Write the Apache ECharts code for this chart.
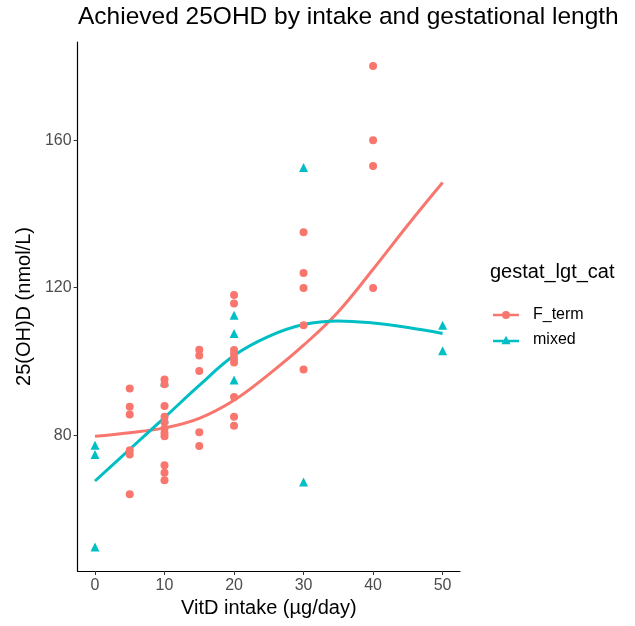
<!DOCTYPE html>
<html><head><meta charset="utf-8">
<script src="https://cdn.jsdelivr.net/npm/echarts@6/dist/echarts.min.js"></script>
<style>html,body{margin:0;padding:0;background:#fff}#c{width:635px;height:626px}</style>
</head><body><div id="c"></div>
<script>
// Observed points
const fTermIntake = [5,5,5,5,5,5, 10,10,10,10,10,10,10,10,10,10,10, 15,15,15,15,15, 20,20,20,20,20,20,20,20,20, 30,30,30,30,30, 40,40,40,40];
const fTermLevel  = [92.7,87.7,85.6,75.9,74.8,64.0, 95.1,93.8,87.9,85.0,83.6,81.8,80.6,79.7,71.9,69.8,67.8, 103.2,101.6,97.4,80.8,77.1, 118.0,115.7,103.1,102.0,100.8,99.7,90.4,85.0,82.6, 135.0,124.0,119.9,109.8,97.8, 180.1,160.0,153.0,119.9];
const mixedIntake = [0,0,0, 10,10, 20,20,20, 30,30, 50,50];
const mixedLevel  = [77.3,74.8,49.7, 94.5,84.5, 112.5,107.6,95.0, 152.6,67.3, 109.8,102.9];
// Smoothed curves
const curveIntake = [0,5,10,15,20,25,30,35,40,45,50];
const fTermCurve  = [79.7,80.7,82.0,84.6,89.5,96.5,104.4,113.5,125.0,137.0,148.5];
const mixedCurve  = [67.6,76.2,84.8,93.5,101.6,106.8,110.0,111.0,110.4,109.2,107.6];
// Ticks
const xTicks = [0,10,20,30,40,50];
const yTicks = [80,120,160];

const FT = '#F8766D', MX = '#00BFC4';
const FONT = 'Liberation Sans, Arial, sans-serif';
const pairs = (xs, ys) => xs.map((x, i) => [x, ys[i]]);

const chart = echarts.init(document.getElementById('c'), null, {renderer: 'canvas'});
chart.setOption({
  animation: false,
  backgroundColor: '#fff',
  textStyle: {fontFamily: FONT},
  title: [
    {text: 'Achieved 25OHD by intake and gestational length', left: 78, top: 5, padding: 0,
     textStyle: {fontSize: 24.5, fontWeight: 'normal', color: '#000', fontFamily: FONT}},
    {text: 'gestat_lgt_cat', left: 490, top: 262, padding: 0,
     textStyle: {fontSize: 20, fontWeight: 'normal', color: '#000', fontFamily: FONT}}
  ],
  legend: {
    orient: 'vertical', left: 493, top: 307, padding: 0,
    itemWidth: 26, itemHeight: 9, itemGap: 9,
    textStyle: {fontSize: 16, lineHeight: 16, color: '#000', fontFamily: FONT, padding: [0,0,0,9]},
    data: [
      {name: 'F_term', icon: 'path://M0,2.7H26V5.3H0Z M9,4A4,4 0 1 1 17,4A4,4 0 1 1 9,4Z'},
      {name: 'mixed', icon: 'path://M0,3.9H26V6.5H0Z M13,0L17.6,8.5L8.4,8.5Z'}
    ]
  },
  grid: {left: 77.6, right: 175, top: 42, bottom: 55, containLabel: false},
  xAxis: {
    type: 'value', min: -2.5, max: 52.5,
    name: 'VitD intake (µg/day)', nameLocation: 'middle', nameGap: 26,
    nameTextStyle: {fontSize: 20, color: '#000', fontFamily: FONT},
    axisLine: {show: true, onZero: false, lineStyle: {color: '#000', width: 1.2}},
    axisTick: {show: true, length: 4, lineStyle: {color: '#333'}, customValues: xTicks},
    axisLabel: {color: '#4D4D4D', fontSize: 16, margin: 7, customValues: xTicks, fontFamily: FONT},
    splitLine: {show: false}
  },
  yAxis: {
    type: 'value', min: 43.2, max: 186.6,
    name: '25(OH)D (nmol/L)', nameLocation: 'middle', nameGap: 42, nameRotate: 90,
    nameTextStyle: {fontSize: 20, color: '#000', fontFamily: FONT},
    axisLine: {show: true, onZero: false, lineStyle: {color: '#000', width: 1.2}},
    axisTick: {show: true, length: 4, lineStyle: {color: '#333'}, customValues: yTicks},
    axisLabel: {color: '#4D4D4D', fontSize: 16, margin: 6, customValues: yTicks, fontFamily: FONT},
    splitLine: {show: false}
  },
  series: [
    {name: 'F_term', type: 'scatter', data: pairs(fTermIntake, fTermLevel), symbol: 'circle', symbolSize: 8,
     itemStyle: {color: FT, opacity: 1}, color: FT, z: 4},
    {name: 'mixed', type: 'scatter', data: pairs(mixedIntake, mixedLevel), symbol: 'triangle', symbolSize: 9,
     itemStyle: {color: MX, opacity: 1}, color: MX, z: 3},
    {name: 'F_term', type: 'line', data: pairs(curveIntake, fTermCurve), smooth: 0.4, showSymbol: false,
     lineStyle: {color: FT, width: 3}, color: FT, z: 2},
    {name: 'mixed', type: 'line', data: pairs(curveIntake, mixedCurve), smooth: 0.4, showSymbol: false,
     lineStyle: {color: MX, width: 3}, color: MX, z: 2}
  ]
});
</script></body></html>
